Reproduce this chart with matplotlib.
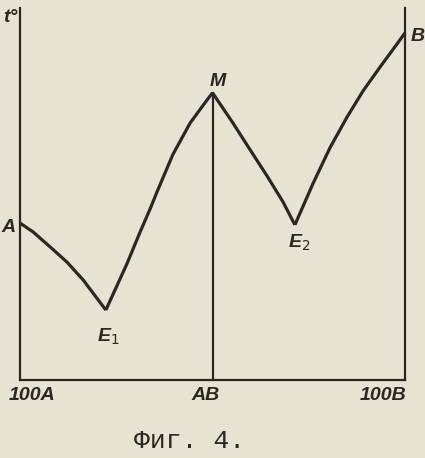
import matplotlib
matplotlib.use("Agg")
import matplotlib.pyplot as plt
from matplotlib import font_manager

# Composition (% B) and temperature (relative units)
branch_AE1_x = [0.0, 3.4, 7.8, 12.2, 16.4, 22.3]
branch_AE1_t = [42.2, 39.8, 35.8, 31.7, 26.9, 18.8]

branch_E1M_x = [22.3, 27.8, 31.2, 33.8, 35.6, 39.7, 44.2, 48.6, 50.0]
branch_E1M_t = [18.8, 31.3, 39.8, 46.0, 50.6, 60.6, 69.1, 75.3, 77.2]

branch_ME2_x = [50.0, 55.3, 59.7, 64.2, 68.3, 71.4]
branch_ME2_t = [77.2, 69.1, 62.0, 54.8, 47.9, 41.7]

branch_E2B_x = [71.4, 76.1, 80.5, 84.9, 89.1, 93.5, 97.9, 100.0]
branch_E2B_t = [41.7, 52.8, 62.4, 70.6, 77.7, 84.1, 90.3, 93.3]

compound_x = 50.0
compound_t = 77.2

tick_pos = [3.1, 48.3, 94.3]
tick_labels = ["100A", "AB", "100B"]

paper = "#e5e3d2"
ink = "#2b2723"

names = {f.name for f in font_manager.fontManager.ttflist}
lab_family = "Liberation Sans Narrow" if "Liberation Sans Narrow" in names else "Liberation Sans"
cap_family = [f for f in ["Liberation Mono", "Courier New", "DejaVu Sans Mono"] if f in names] + ["DejaVu Sans"]

fig = plt.figure(figsize=(4.25, 4.58), dpi=100, facecolor=paper)
ax = fig.add_axes([20/425, 78/458, 385/425, 372/458])
ax.set_facecolor(paper)
ax.set_xlim(0, 100)
ax.set_ylim(0, 100)

for xs, ts in [(branch_AE1_x, branch_AE1_t), (branch_E1M_x, branch_E1M_t),
               (branch_ME2_x, branch_ME2_t), (branch_E2B_x, branch_E2B_t)]:
    ax.plot(xs, ts, color=ink, lw=2.3, solid_joinstyle="round", solid_capstyle="butt",
            clip_on=False)

ax.plot([compound_x, compound_x], [0, compound_t], color=ink, lw=1.6, clip_on=False)

for side in ["left", "right", "bottom"]:
    ax.spines[side].set_color(ink)
    ax.spines[side].set_linewidth(1.6)
ax.spines["top"].set_visible(False)
ax.set_xticks([])
ax.set_yticks([])

lab = dict(color=ink, fontsize=14, style="italic", weight="semibold", family=lab_family)
for x, l in zip(tick_pos, tick_labels):
    ax.text(x, -4.3, l, ha="center", va="center", clip_on=False, **lab)

ax.text(-0.6, 97.5, "t°", ha="right", va="center", clip_on=False, **lab)
ax.text(-1.2, 41.0, "A", ha="right", va="center", clip_on=False, **lab)
ax.text(22.9, 11.6, "E$_1$", ha="center", va="center", clip_on=False, **lab)
ax.text(51.4, 80.3, "M", ha="center", va="center", clip_on=False, **lab)
ax.text(72.4, 36.8, "E$_2$", ha="center", va="center", clip_on=False, **lab)
ax.text(101.5, 92.4, "B", ha="left", va="center", clip_on=False, **lab)

fig.text(190/425, 1 - 441/458, "Фиг. 4.", ha="center", va="center", color=ink,
         fontsize=19, family=cap_family)

fig.savefig("out.png", dpi=100, facecolor=paper)
